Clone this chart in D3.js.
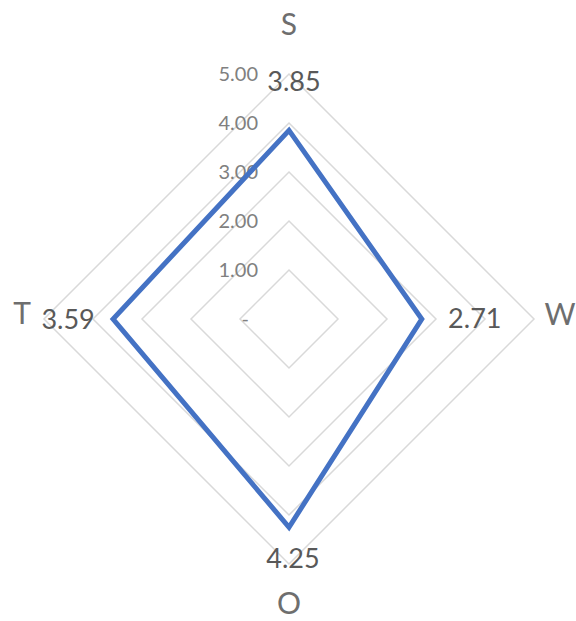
<!DOCTYPE html>
<html>
<head>
<meta charset="utf-8">
<script src="https://cdn.jsdelivr.net/npm/d3@7"></script>
<style>
  body { margin: 0; background: #fff; }
  svg text { font-family: Lato, "Open Sans", sans-serif; }
</style>
</head>
<body>
<div id="chart"></div>
<script>
// ── data ──
const axes = ["S", "W", "O", "T"];
const values = [3.85, 2.71, 4.25, 3.59];
const ticks = [0, 1, 2, 3, 4, 5];
const tickLabels = ["-", "1.00", "2.00", "3.00", "4.00", "5.00"];

const width = 576, height = 621;
const cx = 289, cy = 319;
const maxR = 245;

const svg = d3.select("#chart").append("svg")
  .attr("width", width).attr("height", height);

const r = d3.scaleLinear().domain([0, 5]).range([0, maxR]);
const angle = d3.scalePoint().domain(axes).range([0, 2 * Math.PI * 3 / 4]);

function pt(axis, v) {
  const a = angle(axis) - Math.PI / 2;
  return [cx + r(v) * Math.cos(a), cy + r(v) * Math.sin(a)];
}

// grid diamonds
svg.append("g").selectAll("polygon")
  .data(ticks.slice(1))
  .enter().append("polygon")
  .attr("points", (t) => axes.map((a) => pt(a, t).join(",")).join(" "))
  .attr("fill", "none")
  .attr("stroke", "#d9d9d9")
  .attr("stroke-width", 1.5);

// tick labels along the top axis
svg.append("g").selectAll("text")
  .data(ticks)
  .enter().append("text")
  .attr("x", (t, i) => (i === 0 ? cx - 40 : cx - 31))
  .attr("y", (t) => cy - r(t))
  .attr("dy", "0.36em")
  .attr("text-anchor", "end")
  .attr("fill", "#808080")
  .style("font-size", "20px")
  .text((t, i) => tickLabels[i]);

// series polygon
svg.append("polygon")
  .attr("points", axes.map((a, i) => pt(a, values[i]).join(",")).join(" "))
  .attr("fill", "none")
  .attr("stroke", "#4472c4")
  .attr("stroke-width", 5)
  .attr("stroke-linejoin", "miter");

// data labels – offsets roughly as excel put them
const labelOff = { S: [5, -49], W: [53, -1], O: [4, 31], T: [-45, 0] };
svg.append("g").selectAll("text")
  .data(axes)
  .enter().append("text")
  .attr("x", (a, i) => pt(a, values[i])[0] + labelOff[a][0])
  .attr("y", (a, i) => pt(a, values[i])[1] + labelOff[a][1])
  .attr("dy", "0.36em")
  .attr("text-anchor", "middle")
  .attr("fill", "#595959")
  .style("font-size", "27px")
  .text((a, i) => values[i].toFixed(2));

// axis category labels
const catPos = { S: [0, -295], W: [271, -5], O: [0, 284], T: [-267, -6] };
svg.append("g").selectAll("text")
  .data(axes)
  .enter().append("text")
  .attr("x", (a) => cx + catPos[a][0])
  .attr("y", (a) => cy + catPos[a][1])
  .attr("dy", "0.36em")
  .attr("text-anchor", "middle")
  .attr("fill", "#6e6e6e")
  .style("font-size", "30px")
  .text((a) => a);
</script>
</body>
</html>
